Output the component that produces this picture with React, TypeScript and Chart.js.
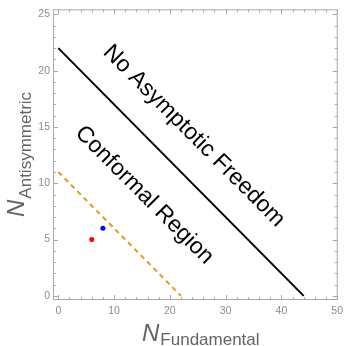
import React, { useEffect, useRef } from "react";
import { Chart, registerables } from "chart.js";

Chart.register(...registerables);

// ---- data ----
const boundaryNoAF = [
  { x: 0, y: 22 },
  { x: 44, y: 0 },
];
const boundaryConformal = [
  { x: 0, y: 11 },
  { x: 22, y: 0 },
];
const redPoints = [{ x: 6, y: 5 }];
const bluePoints = [{ x: 8, y: 6 }];

const xTickValues = [0, 10, 20, 30, 40, 50];
const yTickValues = [0, 5, 10, 15, 20, 25];
const xMinorStep = 2;
const yMinorStep = 1;

const regionLabels = ["No Asymptotic Freedom", "Conformal Region"];
const xTitleMain = "N";
const xTitleSub = "Fundamental";
const yTitleMain = "N";
const yTitleSub = "Antisymmetric";

const FONT = '"Liberation Sans", Arial, sans-serif';

const framePlugin = {
  id: "mmaFrame",
  afterDraw(chart: any) {
    const { ctx, chartArea, scales } = chart;
    const xs = scales.x;
    const ys = scales.y;
    const { left, right, top, bottom } = chartArea;
    ctx.save();
    // frame
    ctx.strokeStyle = "#aaaaaa";
    ctx.lineWidth = 1;
    ctx.strokeRect(left + 0.5, top + 0.5, right - left - 1, bottom - top - 1);
    // ticks
    const drawXTick = (v: number, len: number) => {
      const px = Math.round(xs.getPixelForValue(v)) + 0.5;
      if (px < left || px > right) return;
      ctx.beginPath();
      ctx.moveTo(px, bottom);
      ctx.lineTo(px, bottom - len);
      ctx.moveTo(px, top);
      ctx.lineTo(px, top + len);
      ctx.stroke();
    };
    const drawYTick = (v: number, len: number) => {
      const py = Math.round(ys.getPixelForValue(v)) + 0.5;
      if (py < top || py > bottom) return;
      ctx.beginPath();
      ctx.moveTo(left, py);
      ctx.lineTo(left + len, py);
      ctx.moveTo(right, py);
      ctx.lineTo(right - len, py);
      ctx.stroke();
    };
    const xMax = xTickValues[xTickValues.length - 1];
    const yMax = yTickValues[yTickValues.length - 1];
    for (let v = 0; v <= xMax; v += xMinorStep) {
      if (xTickValues.includes(v)) drawXTick(v, 5);
      else drawXTick(v, 3);
    }
    for (let v = 0; v <= yMax; v += yMinorStep) {
      if (yTickValues.includes(v)) drawYTick(v, 5);
      else drawYTick(v, 3);
    }

    // region labels
    ctx.fillStyle = "#000";
    ctx.textAlign = "center";
    ctx.textBaseline = "alphabetic";
    const anchors = [
      { x: 23.5, y: 13.8, size: 23 },
      { x: 14.6, y: 8.55, size: 23 },
    ];
    regionLabels.forEach((txt, i) => {
      const a = anchors[i];
      ctx.save();
      ctx.translate(xs.getPixelForValue(a.x), ys.getPixelForValue(a.y));
      ctx.rotate(Math.PI / 4);
      ctx.font = `${a.size}px ${FONT}`;
      ctx.fillText(txt, 0, 0);
      ctx.restore();
    });

    // axis titles
    ctx.fillStyle = "#646464";
    ctx.textAlign = "left";
    ctx.textBaseline = "alphabetic";
    // x title
    ctx.font = `italic 24px ${FONT}`;
    const nW = ctx.measureText(xTitleMain).width;
    ctx.fillText(xTitleMain, 142, 341);
    ctx.font = `17px ${FONT}`;
    ctx.fillText(xTitleSub, 142 + nW + 1, 345);
    // y title
    ctx.save();
    ctx.translate(24, 217);
    ctx.rotate(-Math.PI / 2);
    ctx.font = `italic 24px ${FONT}`;
    const nW2 = ctx.measureText(yTitleMain).width;
    ctx.fillText(yTitleMain, 0, 0);
    ctx.font = `17px ${FONT}`;
    ctx.fillText(yTitleSub, nW2 + 1, 7);
    ctx.restore();

    ctx.restore();
  },
};

export default function App() {
  const canvasRef = useRef<HTMLCanvasElement | null>(null);

  useEffect(() => {
    if (!canvasRef.current) return;
    const chart = new Chart(canvasRef.current, {
      type: "scatter",
      data: {
        datasets: [
          {
            data: boundaryNoAF,
            showLine: true,
            borderColor: "#000000",
            borderWidth: 2,
            pointRadius: 0,
          },
          {
            data: boundaryConformal,
            showLine: true,
            borderColor: "#E19C24",
            borderWidth: 2,
            borderDash: [5, 4],
            pointRadius: 0,
          },
          {
            data: redPoints,
            showLine: false,
            backgroundColor: "#FF0000",
            borderColor: "#FF0000",
            pointRadius: 2.5,
            borderWidth: 0,
          },
          {
            data: bluePoints,
            showLine: false,
            backgroundColor: "#0000FF",
            borderColor: "#0000FF",
            pointRadius: 2.5,
            borderWidth: 0,
          },
        ],
      },
      options: {
        responsive: false,
        animation: false,
        devicePixelRatio: 1,
        layout: { padding: { top: 7, right: 6, left: 0, bottom: 0 } },
        plugins: {
          legend: { display: false },
          tooltip: { enabled: false },
        },
        scales: {
          x: {
            type: "linear",
            min: -0.95,
            max: 50.1,
            grid: { display: false, drawTicks: false },
            border: { display: false },
            afterBuildTicks: (s: any) => {
              s.ticks = xTickValues.map((v) => ({ value: v }));
            },
            afterFit: (s: any) => {
              s.height = 46;
            },
            ticks: {
              color: "#8c8c8c",
              font: { family: FONT, size: 10.5 },
              padding: 5,
              maxRotation: 0,
            },
          },
          y: {
            type: "linear",
            min: -0.37,
            max: 25.45,
            grid: { display: false, drawTicks: false },
            border: { display: false },
            afterBuildTicks: (s: any) => {
              s.ticks = yTickValues.map((v) => ({ value: v }));
            },
            afterFit: (s: any) => {
              s.width = 53;
            },
            ticks: {
              color: "#8c8c8c",
              font: { family: FONT, size: 10.5 },
              padding: 3,
            },
          },
        },
      },
      plugins: [framePlugin],
    });
    return () => chart.destroy();
  }, []);

  return (
    <div style={{ position: "absolute", left: 0, top: 0, width: 348, height: 346, background: "#fff" }}>
      <canvas ref={canvasRef} width={348} height={346} />
    </div>
  );
}
